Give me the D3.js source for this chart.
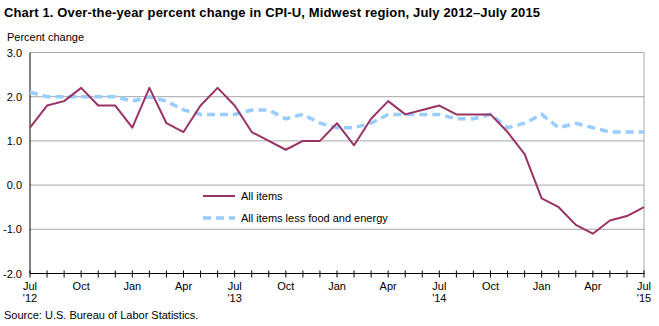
<!DOCTYPE html>
<html>
<head>
<meta charset="utf-8">
<script src="https://cdn.jsdelivr.net/npm/d3@7"></script>
<style>
  body { margin: 0; background: #fff; }
  text { font-family: "Liberation Sans", Arial, sans-serif; }
</style>
</head>
<body>
<div id="chart-area"></div>
<script>
let width = 659,
height = 326;

// monthly values, Jul 2012 .. Jul 2015
let months = d3.range(37);
let allItems = [1.3, 1.8, 1.9, 2.2, 1.8, 1.8, 1.3, 2.2, 1.4, 1.2, 1.8, 2.2, 1.8,
    1.2, 1.0, 0.8, 1.0, 1.0, 1.4, 0.9, 1.5, 1.9, 1.6, 1.7, 1.8,
    1.6, 1.6, 1.6, 1.2, 0.7, -0.3, -0.5, -0.9, -1.1, -0.8, -0.7, -0.5];
let coreItems = [2.1, 2.0, 2.0, 2.0, 2.0, 2.0, 1.9, 2.0, 1.9, 1.7, 1.6, 1.6, 1.6,
    1.7, 1.7, 1.5, 1.6, 1.4, 1.3, 1.3, 1.4, 1.6, 1.6, 1.6, 1.6,
    1.5, 1.5, 1.6, 1.3, 1.4, 1.6, 1.3, 1.4, 1.3, 1.2, 1.2, 1.2];
let monthLabels = ["Jul", "Oct", "Jan", "Apr", "Jul", "Oct", "Jan", "Apr", "Jul", "Oct", "Jan", "Apr", "Jul"];
let yearLabels = {0: "'12", 12: "'13", 24: "'14", 36: "'15"};
let yTicks = [-2, -1, 0, 1, 2, 3];

let svg = d3.select("#chart-area").append("svg")
    .attr("width", width)
    .attr("height", height);

let x = d3.scaleLinear().domain([0, 36]).range([30, 644]);
let y = d3.scaleLinear().domain([-2, 3]).range([273.5, 52.5]);

// title + axis caption
svg.append("text").attr("x", 4).attr("y", 17)
    .style("font-size", "13px").style("font-weight", "bold")
    .attr("textLength", 536).attr("lengthAdjust", "spacing")
    .text("Chart 1. Over-the-year percent change in CPI-U, Midwest region, July 2012\u2013July  2015");
svg.append("text").attr("x", 7).attr("y", 41)
    .style("font-size", "11px")
    .text("Percent change");

// gridlines
svg.selectAll(".grid").data(yTicks.filter(d => d > -2))
    .enter().append("line")
    .attr("x1", x(0)).attr("x2", x(36))
    .attr("y1", d => y(d)).attr("y2", d => y(d))
    .attr("stroke", "#a6a6a6").attr("stroke-width", 1);
svg.append("line")
    .attr("x1", x(36)).attr("x2", x(36)).attr("y1", y(3)).attr("y2", y(-2))
    .attr("stroke", "#a6a6a6");

// y labels
svg.selectAll(".ylab").data(yTicks)
    .enter().append("text")
    .attr("x", 22).attr("y", d => y(d) + 4)
    .attr("text-anchor", "end")
    .style("font-size", "11px")
    .text(d => d.toFixed(1));

// axes
svg.append("line").attr("x1", x(0)).attr("x2", x(0)).attr("y1", y(3)).attr("y2", y(-2))
    .attr("stroke", "#000");
svg.append("line").attr("x1", x(0)).attr("x2", x(36)).attr("y1", y(-2)).attr("y2", y(-2))
    .attr("stroke", "#000");
svg.selectAll(".xtick").data(months)
    .enter().append("line")
    .attr("x1", d => x(d)).attr("x2", d => x(d))
    .attr("y1", y(-2) - 3).attr("y2", y(-2) + 4)
    .attr("stroke", "#000");

svg.selectAll(".xlab").data(monthLabels)
    .enter().append("text")
    .attr("x", (d, i) => x(i * 3)).attr("y", 290)
    .attr("text-anchor", "middle")
    .style("font-size", "11px")
    .text(d => d);
svg.selectAll(".ylabyr").data(Object.keys(yearLabels))
    .enter().append("text")
    .attr("x", d => x(+d)).attr("y", 302)
    .attr("text-anchor", "middle")
    .style("font-size", "11px")
    .text(d => yearLabels[d]);

// lines
let line = d3.line().x((d, i) => x(i)).y(d => y(d));
svg.append("path").datum(coreItems)
    .attr("d", line).attr("fill", "none")
    .attr("stroke", "#99ccff").attr("stroke-width", 3.5)
    .attr("stroke-dasharray", "8,5");
svg.append("path").datum(allItems)
    .attr("d", line).attr("fill", "none")
    .attr("stroke", "#993366").attr("stroke-width", 2)
    .attr("stroke-linejoin", "round");

// legend
svg.append("line").attr("x1", 203).attr("x2", 235).attr("y1", 196).attr("y2", 196)
    .attr("stroke", "#993366").attr("stroke-width", 2);
svg.append("text").attr("x", 241).attr("y", 200).style("font-size", "11px").text("All items");
svg.append("line").attr("x1", 203).attr("x2", 235).attr("y1", 218).attr("y2", 218)
    .attr("stroke", "#99ccff").attr("stroke-width", 3.5).attr("stroke-dasharray", "8,5");
svg.append("text").attr("x", 241).attr("y", 222).style("font-size", "11px").text("All items less food and energy");

svg.append("text").attr("x", 4).attr("y", 319)
    .style("font-size", "11px")
    .text("Source: U.S. Bureau of Labor Statistics.");
</script>
</body>
</html>
